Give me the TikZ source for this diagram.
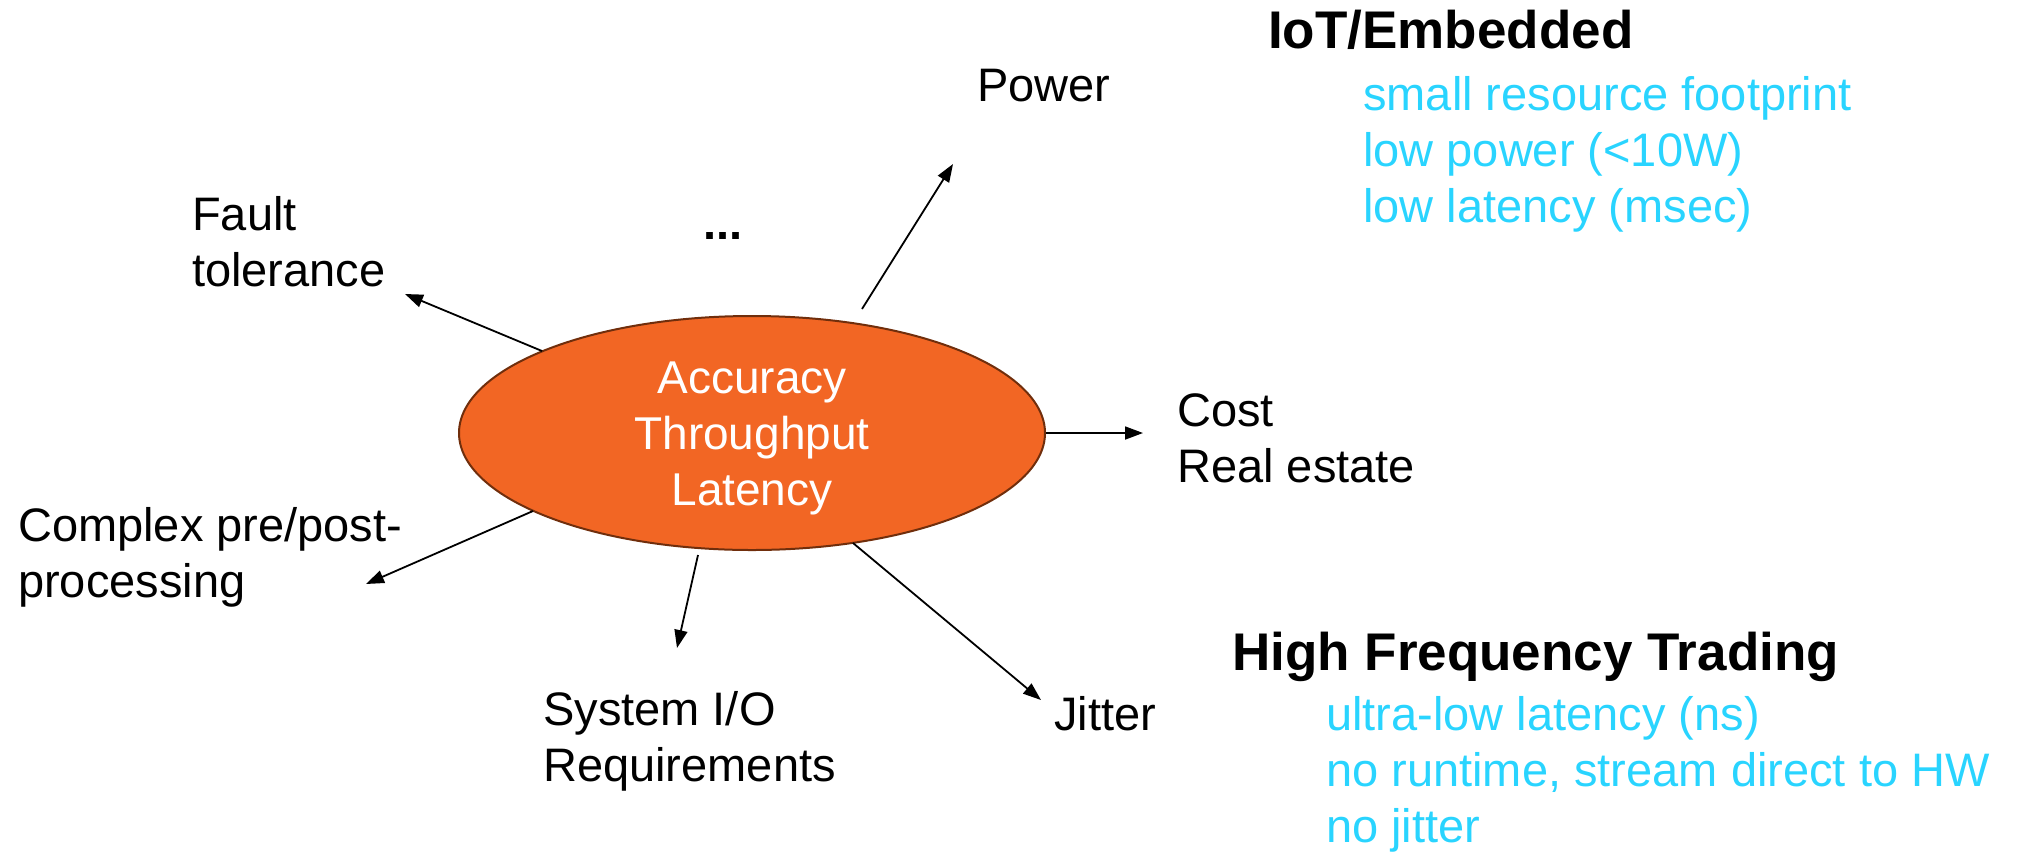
\documentclass[tikz,border=0pt]{standalone}
\usepackage{fontspec}
\setmainfont{Liberation Sans}
\usetikzlibrary{arrows.meta,shapes.geometric}

\definecolor{coreorange}{RGB}{242,102,36}
\definecolor{coreedge}{RGB}{112,46,12}
\definecolor{noteblue}{RGB}{41,212,255}

% multi-line labels are placed by the baseline of their last line
\tikzset{
  lbl/.style={inner sep=0pt, anchor=base west, align=left,
              font=\fontsize{47}{56}\selectfont},
  headline/.style={lbl, font=\fontsize{53}{60}\selectfont\bfseries},
  note/.style={lbl, text=noteblue},
  arr/.style={line width=1.8pt, -{Triangle[length=18pt,width=13pt]}},
  core/.style={ellipse, draw=coreedge, line width=2pt, fill=coreorange,
               minimum width=586pt, minimum height=234pt, inner sep=0pt},
}

\begin{document}
\begin{tikzpicture}[x=1pt, y=-1pt]
  \useasboundingbox (0,0) rectangle (2020,855);

  % central ellipse with the primary metrics
  \node[core] (core) at (752,433) {};
  \node[lbl, anchor=base, align=center, text=white, font=\fontsize{46}{56}\selectfont]
       (coretext) at (752,505) {Accuracy\\Throughput\\Latency};

  % secondary concerns around it
  \node[lbl] (power) at (977,101) {Power};
  \node[lbl, font=\fontsize{47}{56}\selectfont\bfseries] (dots) at (703,239) {...};
  \node[lbl] (fault) at (192,286) {Fault\\tolerance};
  \node[lbl] (cost) at (1177,482) {Cost\\Real estate};
  \node[lbl] (complex) at (18,597) {Complex pre/post-\\processing};
  \node[lbl] (sysio) at (543,781) {System I/O\\Requirements};
  \node[lbl] (jitter) at (1054,730) {Jitter};

  % application domains
  \node[headline] (iot) at (1268,48) {IoT/Embedded};
  \node[note] (iotnotes) at (1363,222) {small resource footprint\\low power (<10W)\\low latency (msec)};
  \node[headline] (hft) at (1232,670) {High Frequency Trading};
  \node[note] (hftnotes) at (1326,842) {ultra-low latency (ns)\\no runtime, stream direct to HW\\no jitter};

  % arrow end points
  \coordinate (pw0) at (862,309);  \coordinate (pw1) at (953,164);
  \coordinate (ft0) at (542,351);  \coordinate (ft1) at (405,294);
  \coordinate (cs1) at (1143,433);
  \coordinate (cx0) at (533,511);  \coordinate (cx1) at (366,584);
  \coordinate (io0) at (698,555);  \coordinate (io1) at (677,648);
  \coordinate (jt0) at (853,543);  \coordinate (jt1) at (1041,700);

  \draw[arr] (pw0) -- (pw1);
  \draw[arr] (ft0) -- (ft1);
  \draw[arr] (core.east) -- (cs1);
  \draw[arr] (cx0) -- (cx1);
  \draw[arr] (io0) -- (io1);
  \draw[arr] (jt0) -- (jt1);
\end{tikzpicture}
\end{document}
